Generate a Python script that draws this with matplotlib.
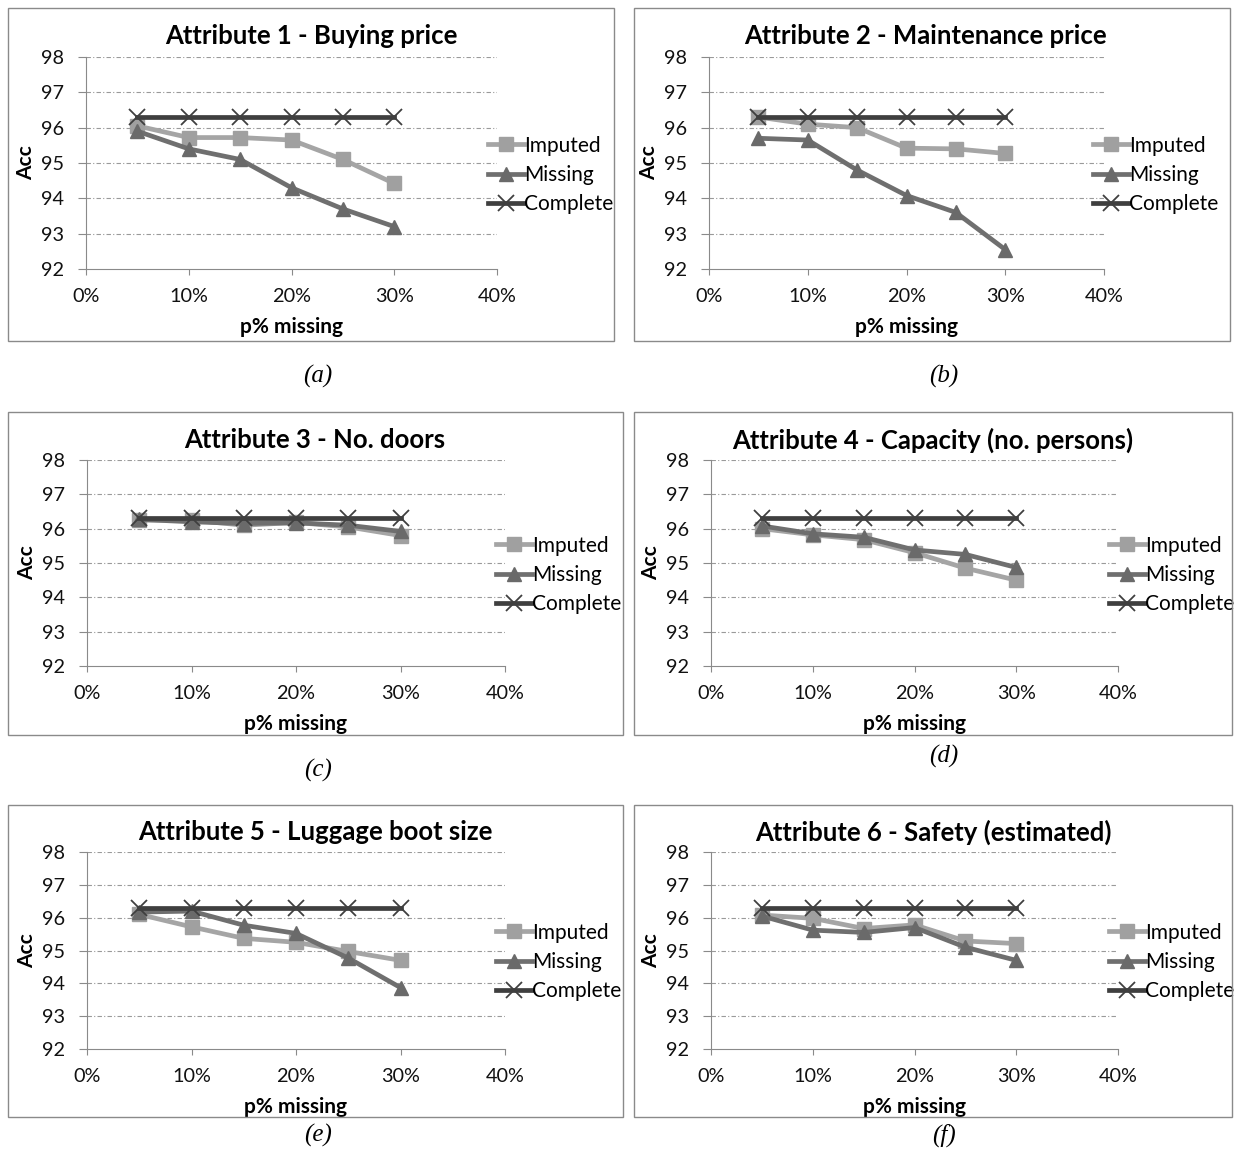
import numpy as np
import matplotlib
matplotlib.use("Agg")
import matplotlib.pyplot as plt
from matplotlib.patches import Rectangle

plt.rcParams['font.family'] = ['Lato', 'DejaVu Sans']

p_missing = [0.05, 0.10, 0.15, 0.20, 0.25, 0.30]

titles = ["Attribute 1 - Buying price",
          "Attribute 2 - Maintenance price",
          "Attribute 3 - No. doors",
          "Attribute 4 - Capacity (no. persons)",
          "Attribute 5 - Luggage boot size",
          "Attribute 6 - Safety (estimated)"]
captions = ["(a)", "(b)", "(c)", "(d)", "(e)", "(f)"]

imputed = [
    [96.05, 95.72, 95.72, 95.65, 95.10, 94.42],
    [96.30, 96.10, 96.00, 95.42, 95.40, 95.27],
    [96.25, 96.25, 96.10, 96.18, 96.05, 95.80],
    [96.00, 95.82, 95.68, 95.30, 94.85, 94.50],
    [96.10, 95.72, 95.37, 95.25, 94.97, 94.70],
    [96.08, 95.98, 95.67, 95.78, 95.29, 95.21],
]
missing = [
    [95.90, 95.40, 95.10, 94.30, 93.70, 93.20],
    [95.70, 95.65, 94.80, 94.08, 93.60, 92.55],
    [96.27, 96.20, 96.15, 96.17, 96.10, 95.92],
    [96.08, 95.85, 95.75, 95.38, 95.25, 94.87],
    [96.17, 96.20, 95.77, 95.52, 94.77, 93.87],
    [96.05, 95.62, 95.55, 95.70, 95.10, 94.70],
]
complete = [96.3, 96.3, 96.3, 96.3, 96.3, 96.3]

W, H = 1238, 1149
fig = plt.figure(figsize=(W / 100, H / 100), dpi=100)

# pixel boxes: frame (x0, y0, x1, y1), plot area (x0, y0, x1, y1)
frames = [(8, 8, 614, 341), (634, 8, 1230, 341),
          (8, 412, 623, 735), (634, 412, 1232, 735),
          (8, 805, 623, 1117), (634, 805, 1232, 1117)]
areas = [(86, 57, 497, 269), (709, 57, 1104, 269),
         (87, 460, 505, 666), (711, 460, 1118, 666),
         (87, 852, 505, 1049), (711, 852, 1118, 1049)]
title_pos = [(311, 36), (925, 36), (315, 440), (933, 440), (315, 832), (933, 832)]
leg_pos = [(488, 175), (1093, 175), (496, 575), (1109, 575), (496, 962), (1109, 962)]
cap_y = [376, 376, 770, 756, 1135, 1135]
cap_x = [318, 944, 318, 944, 318, 944]


def fig_rect(x0, y0, x1, y1):
    return [x0 / W, 1 - y1 / H, (x1 - x0) / W, (y1 - y0) / H]


c_imp, c_mis, c_com = "#a5a5a5", "#6f6f6f", "#3f3f3f"

for i in range(6):
    fx0, fy0, fx1, fy1 = frames[i]
    fig.patches.append(Rectangle((fx0 / W, 1 - fy1 / H), (fx1 - fx0) / W, (fy1 - fy0) / H,
                                 transform=fig.transFigure, fill=False,
                                 edgecolor="#8a8a8a", linewidth=1.0))
    ax = fig.add_axes(fig_rect(*areas[i]))
    ax.plot(p_missing, imputed[i], color=c_imp, lw=3.4, marker="s", ms=9.5,
            mfc="#a0a0a0", mec="#a0a0a0", label="Imputed", zorder=3)
    ax.plot(p_missing, missing[i], color=c_mis, lw=3.4, marker="^", ms=10.5,
            mfc="#6a6a6a", mec="#6a6a6a", label="Missing", zorder=4)
    ax.plot(p_missing, complete, color=c_com, lw=3.4, marker="x", ms=12,
            mew=1.3, label="Complete", zorder=5)
    ax.set_xlim(0, 0.40)
    ax.set_ylim(92, 98)
    ax.set_xticks([0, 0.1, 0.2, 0.3, 0.4])
    ax.set_xticklabels(["0%", "10%", "20%", "30%", "40%"])
    ax.set_yticks(range(92, 99))
    for y in range(93, 99):
        ax.axhline(y, color="#9a9a9a", lw=0.8, ls=(0, (4, 2, 1, 2)), zorder=1)
    for s in ["top", "right"]:
        ax.spines[s].set_visible(False)
    for s in ["left", "bottom"]:
        ax.spines[s].set_color("#8a8a8a")
    ax.tick_params(axis="both", colors="#8a8a8a", labelcolor="#111111",
                   labelsize=14.3, direction="out")
    ax.tick_params(axis="y", length=6, pad=10)
    ax.tick_params(axis="x", length=4, pad=10)
    tx, ty = title_pos[i]
    fig.text(tx / W, 1 - ty / H, titles[i], ha="center", va="center",
             fontsize=18.5, fontweight="bold")
    ax.set_xlabel("p% missing", fontsize=15, fontweight="bold", labelpad=8)
    ax.set_ylabel("Acc", fontsize=15, fontweight="bold", labelpad=3)
    lx, ly = leg_pos[i]
    ax.legend(loc="center left", bbox_to_anchor=(lx / W, 1 - ly / H),
              bbox_transform=fig.transFigure, frameon=False,
              fontsize=15, handlelength=1.75, handletextpad=0.0,
              labelspacing=0.45, borderaxespad=0.0, borderpad=0.0)
    fig.text(cap_x[i] / W, 1 - cap_y[i] / H, captions[i], ha="center", va="center",
             fontsize=18, family="Liberation Serif", style="italic")

fig.savefig("out.png", dpi=100)
